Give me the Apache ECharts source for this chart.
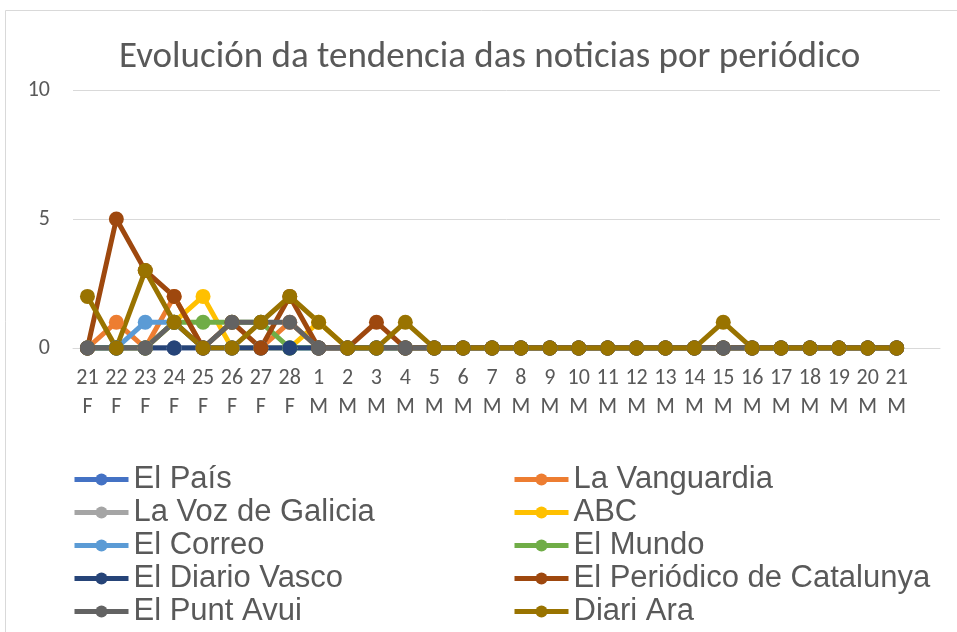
<!DOCTYPE html>
<html>
<head>
<meta charset="utf-8">
<script src="https://cdn.jsdelivr.net/npm/echarts@6/dist/echarts.min.js"></script>
<style>
  html, body { margin: 0; padding: 0; background: #fff; }
  #main { width: 957px; height: 632px; }
</style>
</head>
<body>
<div id="main"></div>
<script>
// categorías (día + mes), a última vacía como no Excel
var dias = ['21\nF', '22\nF', '23\nF', '24\nF', '25\nF', '26\nF', '27\nF', '28\nF',
    '1\nM', '2\nM', '3\nM', '4\nM', '5\nM', '6\nM', '7\nM', '8\nM', '9\nM', '10\nM',
    '11\nM', '12\nM', '13\nM', '14\nM', '15\nM', '16\nM', '17\nM', '18\nM', '19\nM',
    '20\nM', '21\nM', ''];

var elPais        = [0,0,0,0,0,0,0,0,0,0,0,0,0,0,0,0,0,0,0,0,0,0,0,0,0,0,0,0,0];
var laVanguardia  = [0,1,0,2,0,0,0,1,0,0,0,0,0,0,0,0,0,0,0,0,0,0,0,0,0,0,0,0,0];
var laVoz         = [0,0,0,0,0,0,0,0,0,0,0,0,0,0,0,0,0,0,0,0,0,0,0,0,0,0,0,0,0];
var abc           = [0,0,0,1,2,0,0,0,1,0,0,0,0,0,0,0,0,0,0,0,0,0,0,0,0,0,0,0,0];
var elCorreo      = [0,0,1,1,0,0,0,0,0,0,0,0,0,0,0,0,0,0,0,0,0,0,0,0,0,0,0,0,0];
var elMundo       = [0,0,0,1,1,1,1,0,0,0,0,0,0,0,0,0,0,0,0,0,0,0,0,0,0,0,0,0,0];
var diarioVasco   = [0,0,0,0,0,0,0,0,0,0,0,0,0,0,0,0,0,0,0,0,0,0,0,0,0,0,0,0,0];
var periodico     = [0,5,3,2,0,1,0,2,0,0,1,0,0,0,0,0,0,0,0,0,0,0,0,0,0,0,0,0,0];
var puntAvui      = [0,0,0,1,0,1,1,1,0,0,0,0,0,0,0,0,0,0,0,0,0,0,0,0,0,0,0,0,0];
var diariAra      = [2,0,3,1,0,0,1,2,1,0,0,1,0,0,0,0,0,0,0,0,0,0,1,0,0,0,0,0,0];

var nomes = ['El País', 'La Vanguardia', 'La Voz de Galicia', 'ABC', 'El Correo',
    'El Mundo', 'El Diario Vasco', 'El Periódico de Catalunya', 'El Punt Avui', 'Diari Ara'];
var valores = [elPais, laVanguardia, laVoz, abc, elCorreo, elMundo, diarioVasco, periodico, puntAvui, diariAra];
var cores = ['#4472C4', '#ED7D31', '#A5A5A5', '#FFC000', '#5B9BD5',
    '#70AD47', '#264478', '#9E480E', '#636363', '#997300'];

var fonteEixo = "Carlito, 'Liberation Sans Narrow', 'Open Sans', sans-serif";
var fonteLenda = "'Liberation Sans', Arial, sans-serif";

var series = [];
for (var i = 0; i < nomes.length; i++) {
    series.push({
        name: nomes[i],
        type: 'line',
        data: valores[i],
        symbol: 'circle',
        symbolSize: 15,
        color: cores[i],
        lineStyle: { width: 5, color: cores[i] },
        itemStyle: { color: cores[i] },
        emphasis: { disabled: true },
        animation: false
    });
}

var lendaComun = {
    orient: 'vertical',
    itemWidth: 54,
    itemHeight: 15,
    itemGap: 2,
    padding: 0,
    lineStyle: { width: 5 },
    textStyle: { fontFamily: fonteLenda, fontSize: 31, lineHeight: 31, color: '#595959' }
};

var option = {
    backgroundColor: '#fff',
    color: cores,
    title: {
        text: 'Evolución da tendencia das noticias por periódico',
        left: 114,
        top: 34,
        textStyle: { fontFamily: fonteEixo, fontSize: 37, fontWeight: 'normal', color: '#595959' }
    },
    graphic: [{
        type: 'rect',
        shape: { x: 5.5, y: 10.5, width: 1000, height: 700 },
        style: { fill: 'none', stroke: '#d9d9d9', lineWidth: 1 },
        silent: true
    }],
    legend: [
        Object.assign({}, lendaComun, {
            left: 72, top: 464,
            data: ['El País', 'La Voz de Galicia', 'El Correo', 'El Diario Vasco', 'El Punt Avui']
        }),
        Object.assign({}, lendaComun, {
            left: 512, top: 464,
            data: ['La Vanguardia', 'ABC', 'El Mundo', 'El Periódico de Catalunya', 'Diari Ara']
        })
    ],
    grid: { left: 73, right: 17, top: 90, bottom: 284, containLabel: false },
    xAxis: {
        type: 'category',
        data: dias,
        boundaryGap: true,
        axisLine: { show: true, lineStyle: { color: '#d9d9d9', width: 1 } },
        axisTick: { show: false },
        axisLabel: {
            interval: 0, margin: 16, color: '#595959', fontSize: 22,
            lineHeight: 29, fontFamily: fonteEixo
        }
    },
    yAxis: {
        type: 'value',
        min: 0, max: 10, interval: 5,
        axisLine: { show: false },
        axisTick: { show: false },
        splitLine: { lineStyle: { color: '#d9d9d9', width: 1 } },
        axisLabel: { margin: 23, color: '#595959', fontSize: 22, fontFamily: fonteEixo }
    },
    series: series
};

var grafico = echarts.init(document.getElementById('main'));
grafico.setOption(option);
</script>
</body>
</html>
